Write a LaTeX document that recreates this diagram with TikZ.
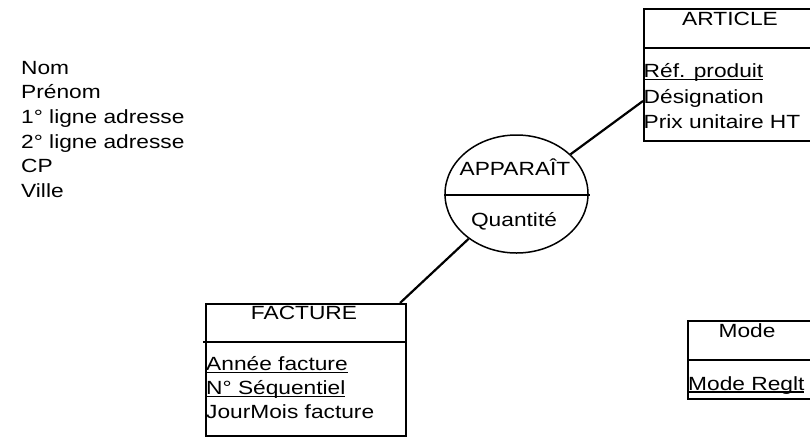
\documentclass[tikz,border=0pt]{standalone}
\usepackage{fontspec}
\setmainfont{Liberation Sans}[FakeStretch=1.19]
\usetikzlibrary{shapes.geometric}

% underlined attribute (identifier)
\newcommand{\idattr}[1]{\setbox0\hbox{#1}\rlap{\rule[-2.6pt]{\wd0}{1.4pt}}\box0}

\tikzset{
  entbox/.style={draw, line width=2.2pt, inner sep=0pt, anchor=north west},
  sep/.style={line width=2.2pt},
  txt/.style={inner sep=0pt, anchor=base},
  attr/.style={inner sep=0pt, anchor=base west},
  relation/.style={draw, ellipse, line width=1.5pt, inner sep=0pt},
  link/.style={line width=2.2pt},
}

\begin{document}
\begin{tikzpicture}[x=1pt, y=-1pt, font=\fontsize{19.1}{24.6}\selectfont]
\useasboundingbox (0,0) rectangle (810,440);
\clip (0,0) rectangle (810,440);

% free attribute list
\node[attr] (cl1) at (21,74.3) {Nom};
\node[attr] (cl2) at (21,98.9) {Prénom};
\node[attr] (cl3) at (21,123.5) {1° ligne adresse};
\node[attr] (cl4) at (21,148.1) {2° ligne adresse};
\node[attr] (cl5) at (21,172.7) {CP};
\node[attr] (cl6) at (21,197.3) {Ville};

% ARTICLE entity
\node[entbox, minimum width=190, minimum height=132] (article) at (643,8) {};
\draw[sep] (643,48) -- (835,48);
\node[txt] (artname) at (730,25) {ARTICLE};
\node[attr] (art1) at (643.5,77.5) {\idattr{Réf. produit}};
\node[attr] (art2) at (643.5,103) {Désignation};
\node[attr] (art3) at (643.5,128.5) {Prix unitaire HT};
\coordinate (artIn) at (643,101);

% FACTURE entity
\node[entbox, minimum width=200, minimum height=132] (facture) at (205,303) {};
\draw[sep] (203,342) -- (405,342);
\node[txt] (facname) at (304,319.5) {FACTURE};
\node[attr] (fac1) at (206,370.5) {\idattr{Année facture}};
\node[attr] (fac2) at (206,394.5) {\idattr{N° Séquentiel}};
\node[attr] (fac3) at (206,418.5) {JourMois facture};
\coordinate (facIn) at (400,303);

% Mode entity
\node[entbox, minimum width=150, minimum height=78] (mode) at (687,320) {};
\draw[sep] (687,360) -- (840,360);
\node[txt] (modename) at (747,337) {Mode};
\node[attr] (mode1) at (688,390) {\idattr{Mode Reglt}};

% APPARAIT relationship
\node[relation, minimum width=143, minimum height=118] (rel) at (516.5,194) {};
\draw[line width=1.5pt] (rel.west |- 0,195) -- (590,195);
\node[txt] (relname) at (515,175) {APPARAÎT};
\node[txt] (relattr) at (514,226) {Quantité};

% links
\draw[link] (rel) -- (artIn);
\draw[link] (rel) -- (facIn);
\end{tikzpicture}
\end{document}
